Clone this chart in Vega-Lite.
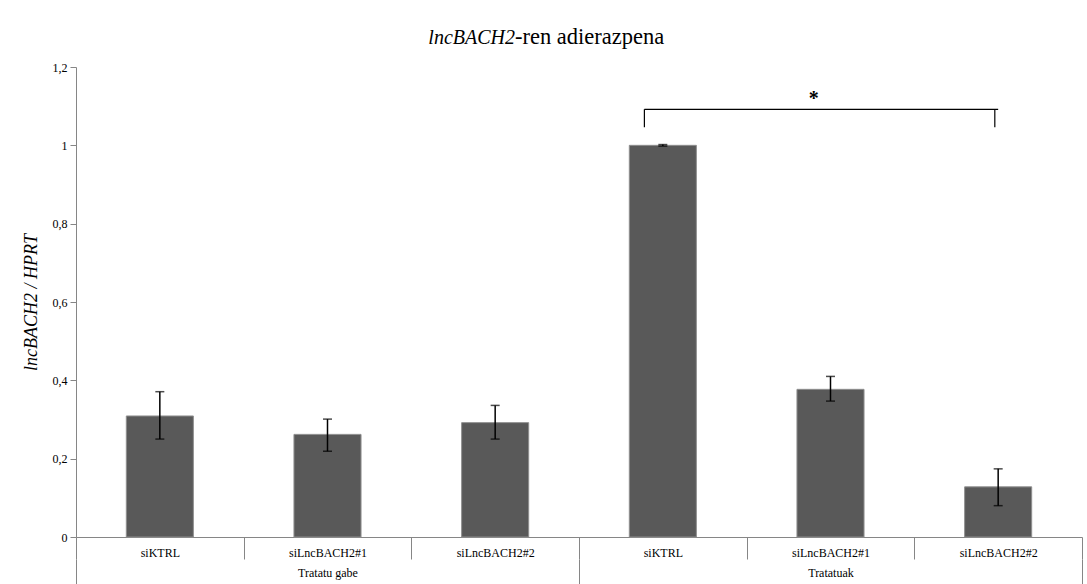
{
  "$schema": "https://vega.github.io/schema/vega-lite/v6.json",
  "autosize": "none",
  "width": 1006,
  "height": 470,
  "padding": {"left": 76, "top": 67, "right": 5, "bottom": 47},
  "background": "white",
  "config": {"view": {"stroke": null}},
  "title": {
    "text": "lncBACH2",
    "subtitle": "-ren adierazpena",
    "anchor": "middle",
    "align": "left",
    "dx": -64,
    "offset": 11,
    "font": "Liberation Serif",
    "fontSize": 20,
    "fontStyle": "italic",
    "fontWeight": "normal",
    "color": "black",
    "subtitleFont": "Liberation Serif",
    "subtitleFontSize": 22.5,
    "subtitleFontStyle": "normal",
    "subtitleColor": "black",
    "subtitlePadding": -22,
    "encoding": {"align": {"value": "right"}}
  },
  "datasets": {
    "bars": [
      {"key": "A|siKTRL", "value": 0.309, "lo": 0.25, "hi": 0.371},
      {"key": "A|siLncBACH2#1", "value": 0.262, "lo": 0.219, "hi": 0.301},
      {"key": "A|siLncBACH2#2", "value": 0.292, "lo": 0.25, "hi": 0.336},
      {"key": "B|siKTRL", "value": 1.0, "lo": 0.998, "hi": 1.002},
      {"key": "B|siLncBACH2#1", "value": 0.377, "lo": 0.347, "hi": 0.41},
      {"key": "B|siLncBACH2#2", "value": 0.128, "lo": 0.08, "hi": 0.174}
    ],
    "groups": [
      {"grp": "Tratatu gabe"},
      {"grp": "Tratatuak"}
    ],
    "bracketH": [
      {"key": "B|siKTRL", "key2": "B|siLncBACH2#2", "y": 1.092}
    ],
    "bracketL": [
      {"key": "B|siKTRL", "y": 1.046, "y2": 1.092}
    ],
    "bracketR": [
      {"key": "B|siLncBACH2#2", "y": 1.046, "y2": 1.092}
    ],
    "star": [
      {"key": "B|siLncBACH2#1", "y": 1.103, "t": "*"}
    ]
  },
  "resolve": {"scale": {"x": "independent"}, "axis": {"x": "independent"}},
  "layer": [
    {
      "encoding": {
        "x": {
          "field": "key",
          "type": "nominal",
          "sort": null,
          "scale": {
            "domain": ["A|siKTRL", "A|siLncBACH2#1", "A|siLncBACH2#2", "B|siKTRL", "B|siLncBACH2#1", "B|siLncBACH2#2"],
            "paddingInner": 0,
            "paddingOuter": 0
          },
          "axis": {
            "title": null,
            "orient": "bottom",
            "tickBand": "extent",
            "tickSize": 22,
            "tickColor": "#868686",
            "tickWidth": 1,
            "domainColor": "#868686",
            "domainWidth": 1,
            "labelExpr": "split(datum.label, '|')[1]",
            "labelAngle": 0,
            "labelPadding": -12,
            "labelBaseline": "top",
            "labelFont": "Liberation Serif",
            "labelFontSize": 12,
            "labelColor": "black",
            "labelOverlap": false,
            "labelFlush": false
          }
        }
      },
      "layer": [
        {
          "data": {"name": "bars"},
          "mark": {"type": "bar", "width": {"band": 0.4}, "color": "#595959", "stroke": "#8f8f8f", "strokeWidth": 1},
          "encoding": {
            "y": {
              "field": "value",
              "type": "quantitative",
              "scale": {"domain": [0, 1.2], "nice": false, "zero": true},
              "axis": {
                "title": "lncBACH2 / HPRT",
                "titleFont": "Liberation Serif",
                "titleFontSize": 18,
                "titleFontStyle": "italic",
                "titleFontWeight": "normal",
                "titleColor": "black",
                "titlePadding": 12,
                "values": [0, 0.2, 0.4, 0.6, 0.8, 1, 1.2],
                "labelExpr": "replace(format(datum.value, '~g'), '.', ',')",
                "labelFont": "Liberation Serif",
                "labelFontSize": 12,
                "labelColor": "black",
                "labelPadding": 3,
                "tickSize": 6,
                "tickColor": "#868686",
                "domainColor": "#868686",
                "grid": false
              }
            }
          }
        },
        {
          "data": {"name": "bars"},
          "mark": {"type": "rule", "color": "black", "strokeWidth": 1.5},
          "encoding": {
            "y": {"field": "lo", "type": "quantitative"},
            "y2": {"field": "hi"}
          }
        },
        {
          "data": {"name": "bars"},
          "mark": {"type": "tick", "color": "black", "size": 9, "thickness": 1.5, "orient": "horizontal"},
          "encoding": {"y": {"field": "lo", "type": "quantitative"}}
        },
        {
          "data": {"name": "bars"},
          "mark": {"type": "tick", "color": "black", "size": 9, "thickness": 1.5, "orient": "horizontal"},
          "encoding": {"y": {"field": "hi", "type": "quantitative"}}
        },
        {
          "data": {"name": "bracketH"},
          "mark": {"type": "rule", "color": "black", "strokeWidth": 1.2},
          "encoding": {
            "x": {"field": "key", "type": "nominal", "bandPosition": 0.39, "axis": {"title": null}},
            "x2": {"field": "key2"},
            "y": {"field": "y", "type": "quantitative"}
          }
        },
        {
          "data": {"name": "bracketL"},
          "mark": {"type": "rule", "color": "black", "strokeWidth": 1.2},
          "encoding": {
            "x": {"field": "key", "type": "nominal", "bandPosition": 0.39, "axis": {"title": null}},
            "y": {"field": "y", "type": "quantitative"},
            "y2": {"field": "y2"}
          }
        },
        {
          "data": {"name": "bracketR"},
          "mark": {"type": "rule", "color": "black", "strokeWidth": 1.2},
          "encoding": {
            "x": {"field": "key", "type": "nominal", "bandPosition": 0.48, "axis": {"title": null}},
            "y": {"field": "y", "type": "quantitative"},
            "y2": {"field": "y2"}
          }
        },
        {
          "data": {"name": "star"},
          "mark": {"type": "text", "font": "Liberation Serif", "fontSize": 20, "fontWeight": "bold", "color": "black", "baseline": "alphabetic", "align": "center"},
          "encoding": {
            "x": {"field": "key", "type": "nominal", "bandPosition": 0.4, "axis": {"title": null}},
            "y": {"field": "y", "type": "quantitative"},
            "text": {"field": "t"}
          }
        }
      ]
    },
    {
      "data": {"name": "groups"},
      "mark": {"type": "point", "opacity": 0},
      "encoding": {
        "x": {
          "field": "grp",
          "type": "nominal",
          "sort": null,
          "scale": {"paddingInner": 0, "paddingOuter": 0},
          "axis": {
            "title": null,
            "orient": "bottom",
            "offset": 22,
            "domain": false,
            "tickBand": "extent",
            "tickSize": 30,
            "tickColor": "#868686",
            "tickWidth": 1,
            "labelAngle": 0,
            "labelPadding": -22,
            "labelBaseline": "top",
            "labelFont": "Liberation Serif",
            "labelFontSize": 12,
            "labelColor": "black",
            "labelOverlap": false,
            "labelFlush": false
          }
        }
      }
    }
  ]
}
